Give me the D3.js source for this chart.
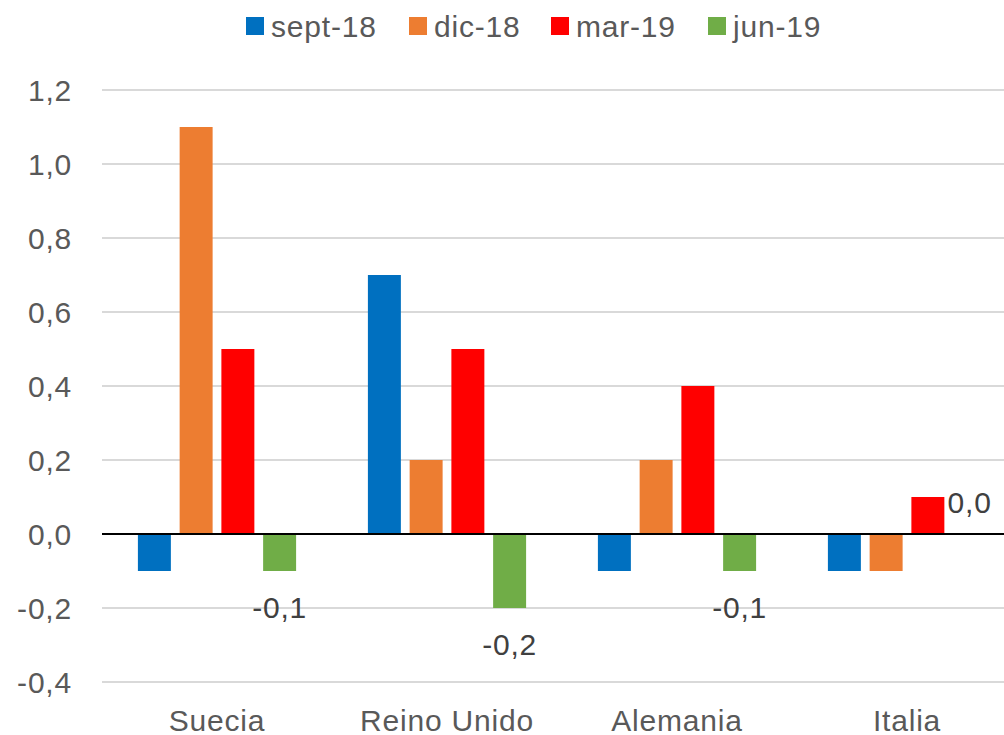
<!DOCTYPE html>
<html lang="es">
<head>
    <meta charset="UTF-8">
    <title>Variación trimestral</title>
    <script src="https://d3js.org/d3.v7.min.js"></script>
    <style>
        body { margin: 0; background: #fff; }
        text { font-family: "Liberation Sans", Arial, sans-serif; letter-spacing: 0.8px; }
        .axis-label { font-size: 30px; fill: #595959; }
        .data-label { font-size: 30px; fill: #404040; text-anchor: middle; }
        .legend text { font-size: 30px; fill: #595959; }
    </style>
</head>
<body>
<script>
    // datos
    const paises = ["Suecia", "Reino Unido", "Alemania", "Italia"];
    const series = ["sept-18", "dic-18", "mar-19", "jun-19"];
    const sept18 = [-0.1, 0.7, -0.1, -0.1];
    const dic18  = [1.1, 0.2, 0.2, -0.1];
    const mar19  = [0.5, 0.5, 0.4, 0.1];
    const jun19  = [-0.1, -0.2, -0.1, 0.0];
    const yTicks = [-0.4, -0.2, 0, 0.2, 0.4, 0.6, 0.8, 1.0, 1.2];
    const colores = ["#0070C0", "#ED7D31", "#FF0000", "#70AD47"];

    const valores = [sept18, dic18, mar19, jun19];
    const w = 1004, h = 735;

    const svg = d3.select("body").append("svg")
        .attr("width", w)
        .attr("height", h);

    const x0 = d3.scaleBand().domain(paises).range([102, 1022]);
    const x1 = d3.scaleBand().domain(series).range([0, x0.bandwidth()])
        .paddingInner(0.21).paddingOuter(0.86);
    const y = d3.scaleLinear().domain([-0.4, 1.2]).range([682, 90]);
    const fmt = v => d3.format(".1f")(v).replace(".", ",").replace("−", "-");

    // rejilla
    svg.append("g").selectAll("line")
        .data(yTicks.filter(t => t !== 0))
        .join("line")
        .attr("x1", 102).attr("x2", w)
        .attr("y1", d => y(d)).attr("y2", d => y(d))
        .attr("stroke", "#D9D9D9").attr("stroke-width", 2);

    // eje y
    svg.append("g").selectAll("text")
        .data(yTicks)
        .join("text")
        .attr("class", "axis-label")
        .attr("x", 72)
        .attr("y", d => y(d))
        .attr("dy", "0.36em")
        .attr("text-anchor", "end")
        .text(fmt);

    // barras
    const grupos = svg.append("g").selectAll("g")
        .data(series)
        .join("g")
        .attr("fill", (d, i) => colores[i]);

    grupos.selectAll("rect")
        .data((s, i) => valores[i].map((v, j) => ({ s, v, pais: paises[j] })))
        .join("rect")
        .attr("x", d => x0(d.pais) + x1(d.s))
        .attr("width", x1.bandwidth())
        .attr("y", d => y(Math.max(0, d.v)))
        .attr("height", d => Math.abs(y(d.v) - y(0)));

    // línea del cero
    svg.append("line")
        .attr("x1", 102).attr("x2", w)
        .attr("y1", y(0)).attr("y2", y(0))
        .attr("stroke", "#000").attr("stroke-width", 2);

    // etiquetas de jun-19
    svg.append("g").selectAll("text")
        .data(jun19.map((v, j) => ({ v, pais: paises[j] })))
        .join("text")
        .attr("class", "data-label")
        .attr("x", d => x0(d.pais) + x1("jun-19") + x1.bandwidth() / 2)
        .attr("y", d => d.v < 0 ? y(d.v) + 36 : y(d.v) - 32)
        .attr("dy", "0.36em")
        .text(d => fmt(d.v));

    // eje x
    svg.append("g").selectAll("text")
        .data(paises)
        .join("text")
        .attr("class", "axis-label")
        .attr("x", d => x0(d) + x0.bandwidth() / 2)
        .attr("y", 731)
        .attr("text-anchor", "middle")
        .text(d => d);

    // leyenda
    const legX = [246, 409, 551, 708];
    const leg = svg.append("g").attr("class", "legend")
        .selectAll("g")
        .data(series)
        .join("g")
        .attr("transform", (d, i) => "translate(" + legX[i] + ",17)");
    leg.append("rect")
        .attr("width", 18).attr("height", 18)
        .attr("fill", (d, i) => colores[i]);
    leg.append("text")
        .attr("x", 25).attr("y", 20)
        .text(d => d);
</script>
</body>
</html>
